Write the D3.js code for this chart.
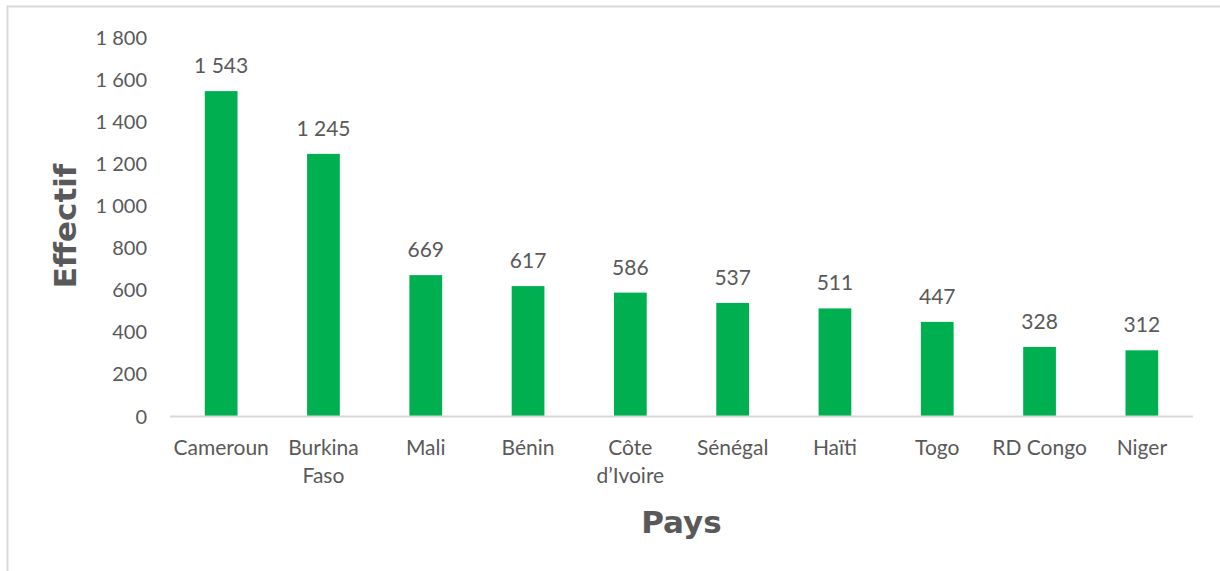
<!DOCTYPE html>
<html>
<head>
<meta charset="utf-8">
<script src="https://cdn.jsdelivr.net/npm/d3@7"></script>
<style>
  body { margin: 0; background: #fff; }
  svg text { font-family: Lato, "Open Sans", sans-serif; fill: #595959; }
  .axis path, .axis line { stroke: none; }
</style>
</head>
<body>
<div id="chart"></div>
<script>
const pays = ['Cameroun', 'Burkina Faso', 'Mali', 'Bénin', 'Côte d’Ivoire', 'Sénégal', 'Haïti', 'Togo', 'RD Congo', 'Niger'];
const effectifs = [1543, 1245, 669, 617, 586, 537, 511, 447, 328, 312];
const yTicks = [0, 200, 400, 600, 800, 1000, 1200, 1400, 1600, 1800];

const data = pays.map((p, i) => ({ pays: p, effectif: effectifs[i] }));

const svgWidth = 1220;
const svgHeight = 571;
const margin = { top: 37, right: 27, bottom: 155, left: 170 };
const chartWidth = svgWidth - margin.left - margin.right;
const chartHeight = svgHeight - margin.top - margin.bottom;

const fr = d3.formatLocale({ decimal: ',', thousands: '\u00a0', grouping: [3], currency: ['', ' €'] });
const fmt = fr.format(',d');

const svg = d3.select('#chart').append('svg').attr('width', svgWidth).attr('height', svgHeight);

// cadre (only top and left visible in the crop)
svg.append('path')
  .attr('d', `M7.5,${svgHeight} V6.5 H${svgWidth}`)
  .attr('fill', 'none')
  .attr('stroke', '#d9d9d9')
  .attr('stroke-width', 2);

const chart = svg.append('g').attr('transform', `translate(${margin.left},${margin.top})`);

const xScale = d3.scaleBand().range([0, chartWidth]).domain(pays).paddingInner(0.68).paddingOuter(0.34);
const yScale = d3.scaleLinear().range([chartHeight, 0]).domain([0, 1800]);

chart.selectAll('.bar').data(data).enter().append('rect')
  .attr('class', 'bar')
  .attr('x', d => xScale(d.pays))
  .attr('y', d => yScale(d.effectif))
  .attr('width', xScale.bandwidth())
  .attr('height', d => chartHeight - yScale(d.effectif))
  .attr('fill', '#00b050');

chart.selectAll('.bar-label').data(data).enter().append('text')
  .attr('class', 'bar-label')
  .attr('x', d => xScale(d.pays) + xScale.bandwidth() / 2)
  .attr('y', d => yScale(d.effectif) - 18)
  .attr('text-anchor', 'middle')
  .style('font-size', '21px')
  .text(d => fmt(d.effectif));

// axe Y
const yAxis = chart.append('g').attr('class', 'axis')
  .call(d3.axisLeft(yScale).tickValues(yTicks).tickFormat(fmt).tickSize(0).tickPadding(23));
yAxis.selectAll('text').style('font-size', '20px').attr('dy', '0.35em');

// axe X
chart.append('line')
  .attr('x1', 0).attr('x2', chartWidth)
  .attr('y1', chartHeight + 0.5).attr('y2', chartHeight + 0.5)
  .attr('stroke', '#d9d9d9').attr('stroke-width', 2);

const xAxis = chart.append('g').attr('class', 'axis')
  .attr('transform', `translate(0,${chartHeight})`)
  .call(d3.axisBottom(xScale).tickSize(0).tickPadding(0));
xAxis.selectAll('text').each(function(d) {
  const t = d3.select(this).text(null).attr('y', 0).attr('dy', null).style('font-size', '21px');
  const words = d === 'Burkina Faso' || d === 'Côte d’Ivoire' ? d.split(' ') : [d];
  words.forEach((w, i) => t.append('tspan').attr('x', 0).attr('y', 39 + i * 28).text(w));
});

// titres
svg.append('text')
  .attr('transform', `translate(76,226) rotate(-90)`)
  .attr('text-anchor', 'middle')
  .style('font-family', '"DejaVu Sans", sans-serif')
  .style('font-weight', 'bold')
  .style('font-size', '31px')
  .text('Effectif');

svg.append('text')
  .attr('x', margin.left + chartWidth / 2)
  .attr('y', 533)
  .attr('text-anchor', 'middle')
  .style('font-family', '"DejaVu Sans", sans-serif')
  .style('font-weight', 'bold')
  .style('font-size', '31px')
  .text('Pays');
</script>
</body>
</html>
